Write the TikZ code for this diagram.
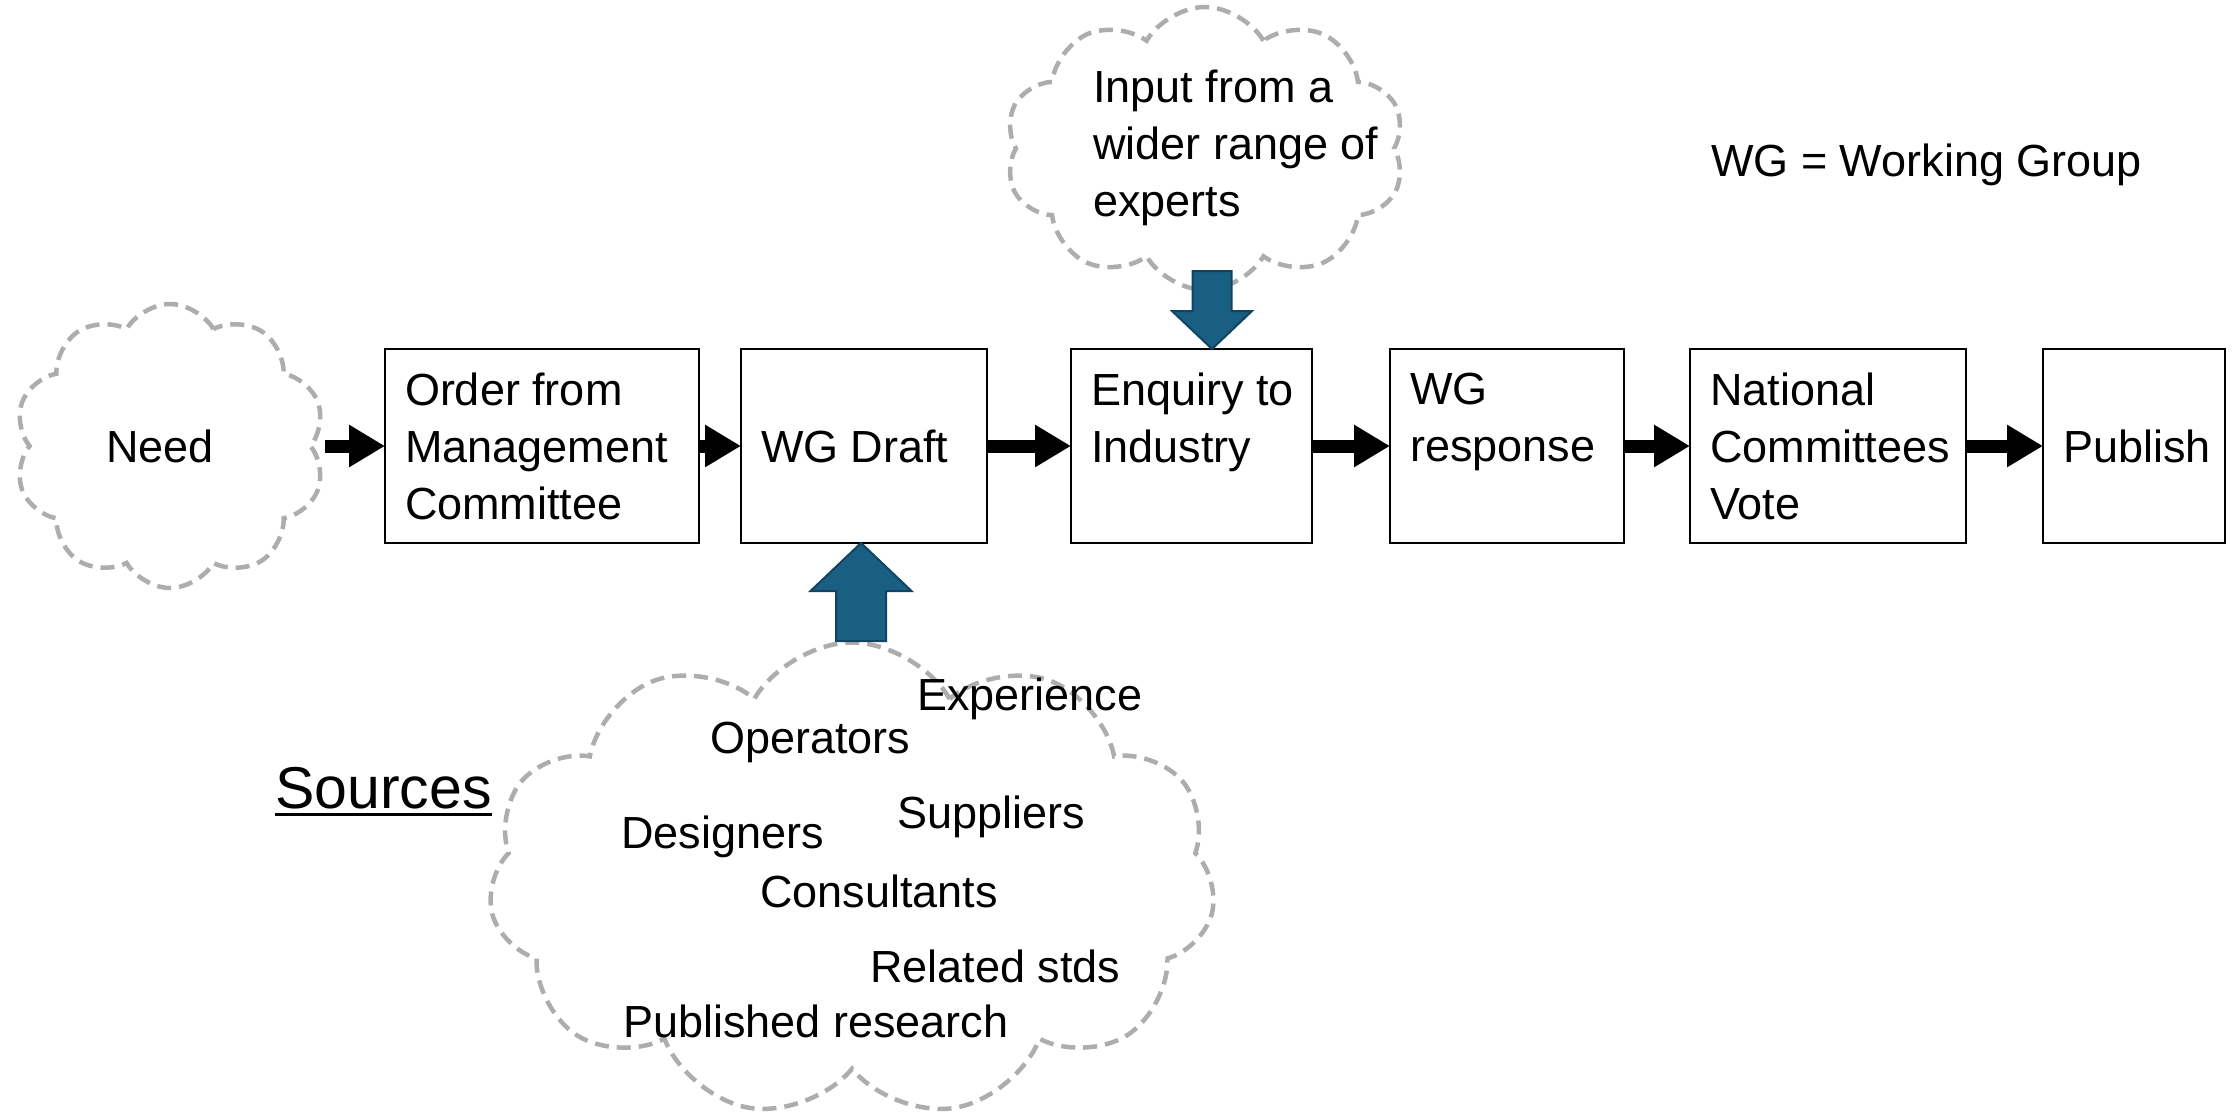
\documentclass[tikz,border=0pt]{standalone}
\usepackage{fontspec}
\setmainfont{Liberation Sans}
\usetikzlibrary{shapes.symbols,arrows.meta,calc}

\definecolor{cloudgray}{RGB}{173,173,173}
\definecolor{flowblue}{RGB}{25,94,131}
\definecolor{flowblueedge}{RGB}{18,68,96}

% body text size, no hyphenation inside the boxes
\newcommand\flowtext{\fontsize{45}{57}\selectfont\hyphenpenalty 10000\relax\exhyphenpenalty 10000\relax}

\begin{document}
\begin{tikzpicture}[x=1pt,y=-1pt,
  txt/.style={font=\flowtext},
  stepbox/.style={draw, line width=2.7pt, txt, align=flush left, inner xsep=20pt,
    inner ysep=0pt, minimum height=194pt, outer sep=0pt},
  puff/.style={cloud, cloud puffs=10, cloud puff arc=120, draw=cloudgray,
    line width=4.5pt, dash pattern=on 14pt off 8pt, inner sep=0pt, outer sep=0pt},
  flow/.style={line width=13pt, -{Triangle[length=36pt,width=40pt]}},
  feed/.style={fill=flowblue, draw=flowblueedge, line width=2pt, line join=miter},
  word/.style={txt, inner sep=0pt, anchor=base west}
]
\useasboundingbox (0,0) rectangle (2236,1118);

% process chain
\node[stepbox, text width=274pt] (order)    at (542,446)    {\mbox{Order from}\\\mbox{Management}\\\mbox{Committee}};
\node[stepbox, text width=206pt] (wgdraft)  at (864,446)    {\mbox{WG Draft}};
\node[stepbox, text width=201pt] (enquiry)  at (1191.5,446) {\mbox{Enquiry to}\\\mbox{Industry}\\\mbox{}};
\node[stepbox, text width=194pt] (wgresp)   at (1507,446)   {\mbox{WG}\\\mbox{response}\\\mbox{}};
\node[stepbox, text width=236pt] (national) at (1828,446)   {\mbox{National}\\\mbox{Committees}\\\mbox{Vote}};
\node[stepbox, text width=142pt] (publish)  at (2134,446)   {\mbox{Publish}};

% the need that starts it all
\node[puff, txt, minimum width=311pt, minimum height=284pt] (need) at (170,446) {Need\kern20pt};
\coordinate (needEdge) at ($(need.center)+(155,0)$);

\draw[flow] (needEdge) -- (order);
\draw[flow] (order) -- (wgdraft);
\draw[flow] (wgdraft) -- (enquiry);
\draw[flow] (enquiry) -- (wgresp);
\draw[flow] (wgresp) -- (national);
\draw[flow] (national) -- (publish);

% outside experts feeding the enquiry
\node[puff, minimum width=400pt, minimum height=283pt] (experts) at (1205,148.5) {};
\node[txt, align=left, inner sep=0pt, anchor=west] (expertstext) at (1093,148)
  {Input from a\\wider range of\\experts};
\coordinate (downTip) at (enquiry.north -| 1212,0);
\path[feed] (downTip) -- ++(40,-38) -- ++(-20.5,0) -- ++(0,-40) -- ++(-39,0)
  -- ++(0,40) -- ++(-20.5,0) -- cycle;

% sources feeding the draft
\node[puff, cloud puffs=11, minimum width=727pt, minimum height=475pt] (sources) at (852,880) {};
\coordinate (upTip) at (wgdraft.south -| 861,0);
\path[feed] (upTip) -- ++(50.5,48) -- ++(-25.5,0) -- ++(0,50) -- ++(-50,0)
  -- ++(0,-50) -- ++(-25.5,0) -- cycle;

\node[word] (wexp)  at (917,710)  {Experience};
\node[word] (wop)   at (710,753)  {Operators};
\node[word] (wsup)  at (897,828)  {Suppliers};
\node[word] (wdes)  at (621,848)  {Designers};
\node[word] (wcon)  at (760,907)  {Consultants};
\node[word] (wrel)  at (870,982)  {Related stds};
\node[word] (wpub)  at (623,1037) {Published research};

\node[inner sep=0pt, anchor=base west, font=\fontsize{59}{70}\selectfont] (srclabel) at (275,808) {Sources};
\draw[line width=3pt] ($(srclabel.base west)+(0,6)$) -- ($(srclabel.base east)+(0,6)$);

% legend
\node[word] (legend) at (1711,177) {WG = Working Group};
\end{tikzpicture}
\end{document}
